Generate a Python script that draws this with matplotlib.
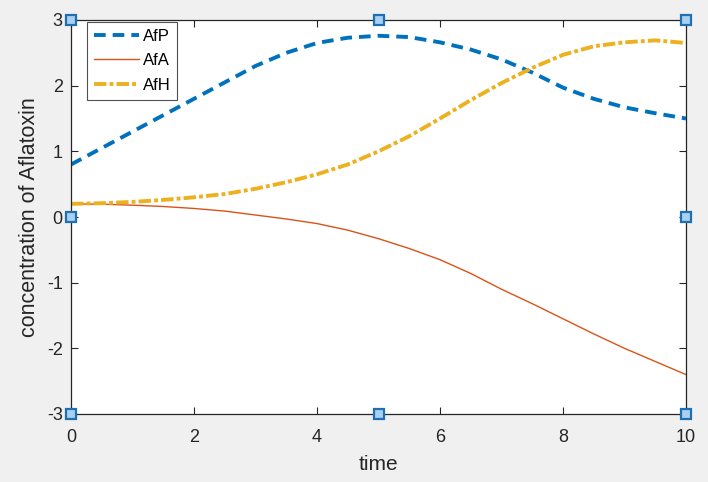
import matplotlib
matplotlib.use("Agg")
import matplotlib.pyplot as plt

plt.rcParams["font.family"] = ["Liberation Sans", "DejaVu Sans"]
plt.rcParams["axes.unicode_minus"] = False

time = [0, 0.5, 1, 1.5, 2, 2.5, 3, 3.5, 4, 4.5, 5,
        5.5, 6, 6.5, 7, 7.5, 8, 8.5, 9, 9.5, 10]
afp = [0.8, 1.05, 1.3, 1.55, 1.8, 2.05, 2.3, 2.5, 2.65, 2.73, 2.76,
       2.74, 2.66, 2.55, 2.4, 2.2, 1.97, 1.8, 1.67, 1.58, 1.5]
afa = [0.2, 0.195, 0.18, 0.16, 0.13, 0.09, 0.03, -0.03, -0.1, -0.2, -0.33,
       -0.48, -0.65, -0.86, -1.1, -1.32, -1.55, -1.78, -2.0, -2.2, -2.4]
afh = [0.2, 0.21, 0.23, 0.26, 0.3, 0.35, 0.43, 0.53, 0.65, 0.8, 1.0,
       1.23, 1.5, 1.78, 2.04, 2.27, 2.47, 2.6, 2.66, 2.69, 2.65]

xticks = [0, 2, 4, 6, 8, 10]
yticks = [-3, -2, -1, 0, 1, 2, 3]

BLUE = "#0072BD"
ORANGE = "#D95319"
YELLOW = "#EDB120"
AXIS = "#262626"

fig = plt.figure(figsize=(7.08, 4.82), dpi=100, facecolor="#f0f0f0")
ax = fig.add_axes([71 / 708, 1 - 414 / 482, 615 / 708, 394 / 482])

ax.plot(time, afp, color=BLUE, lw=2.8, ls=(0, (3.0, 1.8)), label="AfP")
ax.plot(time, afa, color=ORANGE, lw=1.0, label="AfA")
ax.plot(time, afh, color=YELLOW, lw=2.8, ls=(0, (3.2, 0.8, 1, 0.8)), label="AfH")

ax.set_xlim(0, 10)
ax.set_ylim(-3, 3)
ax.set_xticks(xticks)
ax.set_yticks(yticks)
ax.tick_params(direction="in", top=True, right=True, length=5, width=0.8,
               colors=AXIS, labelsize=13)
ax.tick_params(axis="x", pad=11)
ax.tick_params(axis="y", pad=6)
for s in ax.spines.values():
    s.set_color(AXIS)
    s.set_linewidth(0.9)

ax.set_xlabel("time", fontsize=15, color=AXIS, labelpad=6)
ax.set_ylabel("concentration of Aflatoxin", fontsize=15.5, color=AXIS, labelpad=5)

leg = ax.legend(loc="upper left", bbox_to_anchor=(0.026, 0.995), fontsize=12,
                frameon=True, fancybox=False, edgecolor=AXIS, handlelength=2.7,
                borderpad=0.4, labelspacing=0.58, handletextpad=0.25,
                borderaxespad=0)
leg.get_frame().set_linewidth(0.8)

# selection handles on the axes box
hx = [0, 0.5, 1, 0, 1, 0, 0.5, 1]
hy = [0, 0, 0, 0.5, 0.5, 1, 1, 1]
ax.plot(hx, hy, ls="none", marker="s", ms=7, mfc="#a9d1ef", mec="#1f6fb2",
        mew=1.6, transform=ax.transAxes, clip_on=False, zorder=10)

fig.savefig("out.png", dpi=100, facecolor=fig.get_facecolor())
